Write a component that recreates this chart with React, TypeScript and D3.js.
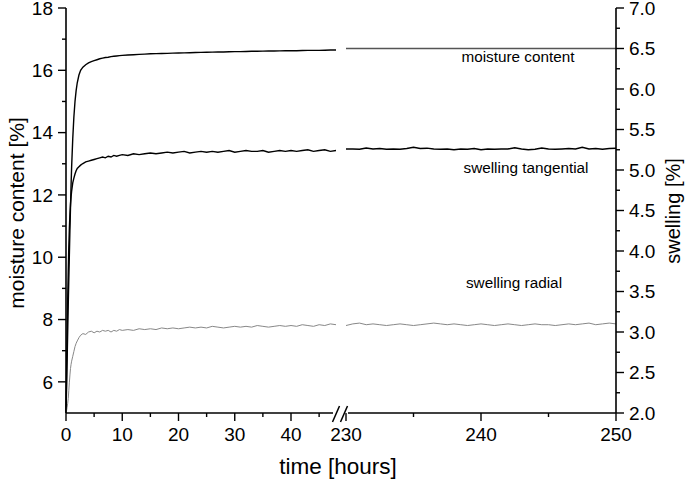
import React from 'react';
import * as d3 from 'd3';

const timeLeft = [0, 0.1, 0.2, 0.3, 0.4, 0.5, 0.6, 0.7, 0.8, 0.9, 1, 1.2, 1.4, 1.6, 1.8, 2, 2.3, 2.6, 3, 3.5, 4, 4.5, 5, 5.5, 6, 6.5, 7, 7.5, 8, 8.5, 9, 9.5, 10,
  11, 12, 13, 14, 15, 16, 17, 18, 19, 20, 21, 22, 23, 24, 25, 26, 27, 28, 29, 30, 31, 32, 33, 34, 35, 36, 37, 38, 39, 40, 41, 42, 43, 44, 45, 46, 47, 48];

const moistureLeft = [5.0, 5.8, 6.7, 7.6, 8.5, 9.3, 10.1, 10.9, 11.6, 12.3, 12.9, 13.8, 14.5, 15.0, 15.35, 15.6, 15.85, 16.0, 16.1, 16.18, 16.24, 16.28, 16.31, 16.34, 16.37, 16.39, 16.41, 16.42, 16.44, 16.45, 16.46, 16.47, 16.48,
  16.49, 16.5, 16.51, 16.52, 16.53, 16.535, 16.54, 16.545, 16.55, 16.555, 16.56, 16.565, 16.57, 16.575, 16.58, 16.585, 16.59, 16.59, 16.595, 16.6, 16.6, 16.605, 16.61, 16.61, 16.615, 16.62, 16.62, 16.625, 16.63, 16.63, 16.63, 16.635, 16.64, 16.64, 16.64, 16.645, 16.65, 16.65];

const tangentialLeft = [2.0, 2.5, 3.0, 3.4, 3.75, 4.05, 4.28, 4.45, 4.58, 4.67, 4.74, 4.84, 4.9, 4.95, 4.99, 5.02, 5.04, 5.06, 5.08, 5.1, 5.11, 5.12, 5.13, 5.14, 5.15, 5.16, 5.15, 5.17, 5.16, 5.18, 5.17, 5.18, 5.19,
  5.18, 5.2, 5.19, 5.2, 5.21, 5.2, 5.21, 5.22, 5.21, 5.22, 5.23, 5.21, 5.22, 5.23, 5.22, 5.23, 5.22, 5.23, 5.24, 5.22, 5.23, 5.24, 5.23, 5.23, 5.24, 5.22, 5.23, 5.24, 5.23, 5.24, 5.23, 5.24, 5.25, 5.23, 5.24, 5.25, 5.23, 5.24];

const radialLeft = [2.0, 2.03, 2.07, 2.12, 2.18, 2.28, 2.38, 2.47, 2.55, 2.6, 2.64, 2.7, 2.76, 2.82, 2.86, 2.89, 2.93, 2.96, 2.98, 2.97, 3.0, 3.01, 2.99, 3.01, 3.0, 3.02, 3.01, 3.02, 3.0, 3.02, 3.01, 3.03, 3.02,
  3.03, 3.02, 3.04, 3.03, 3.04, 3.03, 3.05, 3.04, 3.05, 3.04, 3.05, 3.06, 3.05, 3.06, 3.05, 3.07, 3.06, 3.05, 3.06, 3.07, 3.06, 3.07, 3.06, 3.08, 3.07, 3.06, 3.07, 3.08, 3.07, 3.08, 3.07, 3.09, 3.08, 3.07, 3.09, 3.08, 3.1, 3.09];

const timeRight = [230, 230.5, 231, 231.5, 232, 232.5, 233, 233.5, 234, 234.5, 235, 235.5, 236, 236.5, 237, 237.5, 238, 238.5, 239, 239.5, 240,
  240.5, 241, 241.5, 242, 242.5, 243, 243.5, 244, 244.5, 245, 245.5, 246, 246.5, 247, 247.5, 248, 248.5, 249, 249.5, 250];

const moistureRight = [16.70, 16.70, 16.705, 16.70, 16.70, 16.705, 16.70, 16.70, 16.70, 16.705, 16.70, 16.70, 16.70, 16.705, 16.70, 16.70, 16.70, 16.70, 16.705, 16.70, 16.70,
  16.70, 16.705, 16.70, 16.70, 16.70, 16.705, 16.70, 16.70, 16.70, 16.70, 16.705, 16.70, 16.70, 16.70, 16.705, 16.70, 16.70, 16.70, 16.70, 16.70];

const tangentialRight = [5.26, 5.26, 5.255, 5.27, 5.26, 5.265, 5.255, 5.26, 5.255, 5.265, 5.28, 5.265, 5.27, 5.26, 5.255, 5.26, 5.25, 5.26, 5.255, 5.265, 5.25,
  5.26, 5.255, 5.26, 5.26, 5.275, 5.26, 5.25, 5.255, 5.27, 5.26, 5.255, 5.26, 5.265, 5.26, 5.28, 5.26, 5.265, 5.255, 5.265, 5.27];

const radialRight = [3.08, 3.1, 3.11, 3.09, 3.1, 3.09, 3.08, 3.09, 3.1, 3.09, 3.08, 3.09, 3.1, 3.11, 3.1, 3.09, 3.1, 3.09, 3.08, 3.09, 3.1,
  3.09, 3.08, 3.09, 3.1, 3.09, 3.08, 3.09, 3.1, 3.09, 3.09, 3.08, 3.09, 3.1, 3.09, 3.1, 3.11, 3.09, 3.1, 3.11, 3.1];

const moistureTicks = [6, 8, 10, 12, 14, 16, 18];
const moistureMinor = [7, 9, 11, 13, 15, 17];
const swellingTicks = [2.0, 2.5, 3.0, 3.5, 4.0, 4.5, 5.0, 5.5, 6.0, 6.5, 7.0];
const swellingMinor = [2.25, 2.75, 3.25, 3.75, 4.25, 4.75, 5.25, 5.75, 6.25, 6.75];
const timeTicksLeft = [0, 10, 20, 30, 40];
const timeMinorLeft = [5, 15, 25, 35, 45];
const timeTicksRight = [230, 240, 250];
const timeMinorRight = [235, 245];

const FONT = 'Liberation Sans, Arial, Helvetica, sans-serif';

export default function App() {
  const W = 685, H = 483;
  const xL = d3.scaleLinear().domain([0, 48]).range([66, 336]);
  const xR = d3.scaleLinear().domain([230, 250]).range([346, 616]);
  const yM = d3.scaleLinear().domain([5, 18]).range([413, 8]);
  const yS = d3.scaleLinear().domain([2, 7]).range([413, 8]);
  const x0 = xL(0), x1 = xR(250), yB = yM(5);

  const lineL = (vals: number[], y: d3.ScaleLinear<number, number>) =>
    d3.line<number>().x((_, i) => xL(timeLeft[i])).y((d) => y(d))(vals) || '';
  const lineR = (vals: number[], y: d3.ScaleLinear<number, number>) =>
    d3.line<number>().x((_, i) => xR(timeRight[i])).y((d) => y(d))(vals) || '';

  const axisStroke = '#000';
  const major = 8, minor = 4;
  const brkL = 333, brkR = 348;

  return (
    <svg width={W} height={H} style={{ position: 'absolute', left: 0, top: 0, background: '#fff' }} fontFamily={FONT}>
      <rect x={0} y={0} width={W} height={H} fill="#fff" />
      {/* data lines */}
      <path d={lineL(moistureLeft, yM)} fill="none" stroke="#000" strokeWidth={1.4} />
      <path d={lineL(tangentialLeft, yS)} fill="none" stroke="#000" strokeWidth={1.4} />
      <path d={lineL(radialLeft, yS)} fill="none" stroke="#888" strokeWidth={1} />
      <path d={lineR(moistureRight, yM)} fill="none" stroke="#555" strokeWidth={1.3} />
      <path d={lineR(tangentialRight, yS)} fill="none" stroke="#000" strokeWidth={1.5} />
      <path d={lineR(radialRight, yS)} fill="none" stroke="#888" strokeWidth={1} />

      {/* left axis */}
      <line x1={x0} x2={x0} y1={yM(18)} y2={yB} stroke={axisStroke} strokeWidth={1.6} />
      {moistureTicks.map((t) => (
        <g key={'ml' + t}>
          <line x1={x0 - major} x2={x0} y1={yM(t)} y2={yM(t)} stroke={axisStroke} strokeWidth={1.4} />
          <text x={x0 - 13} y={yM(t)} dy="0.36em" textAnchor="end" fontSize={19}>{t}</text>
        </g>
      ))}
      {moistureMinor.map((t) => (
        <line key={'mm' + t} x1={x0 - minor} x2={x0} y1={yM(t)} y2={yM(t)} stroke={axisStroke} strokeWidth={1.4} />
      ))}

      {/* right axis */}
      <line x1={x1} x2={x1} y1={yS(7)} y2={yB} stroke={axisStroke} strokeWidth={1.6} />
      {swellingTicks.map((t) => (
        <g key={'sl' + t}>
          <line x1={x1} x2={x1 + major} y1={yS(t)} y2={yS(t)} stroke={axisStroke} strokeWidth={1.4} />
          <text x={x1 + 13} y={yS(t)} dy="0.36em" textAnchor="start" fontSize={19}>{t.toFixed(1)}</text>
        </g>
      ))}
      {swellingMinor.map((t) => (
        <line key={'sm' + t} x1={x1} x2={x1 + minor} y1={yS(t)} y2={yS(t)} stroke={axisStroke} strokeWidth={1.4} />
      ))}

      {/* bottom axis with break */}
      <line x1={x0} x2={brkL} y1={yB} y2={yB} stroke={axisStroke} strokeWidth={1.6} />
      <line x1={brkR} x2={x1} y1={yB} y2={yB} stroke={axisStroke} strokeWidth={1.6} />
      <line x1={332.5} y1={422} x2={339.5} y2={406} stroke={axisStroke} strokeWidth={1.5} />
      <line x1={340.5} y1={422} x2={347.5} y2={406} stroke={axisStroke} strokeWidth={1.5} />
      {timeTicksLeft.map((t) => (
        <g key={'tl' + t}>
          <line x1={xL(t)} x2={xL(t)} y1={yB} y2={yB + major} stroke={axisStroke} strokeWidth={1.4} />
          <text x={xL(t)} y={441} textAnchor="middle" fontSize={19}>{t}</text>
        </g>
      ))}
      {timeMinorLeft.map((t) => (
        <line key={'tm' + t} x1={xL(t)} x2={xL(t)} y1={yB} y2={yB + minor} stroke={axisStroke} strokeWidth={1.4} />
      ))}
      {timeTicksRight.map((t) => (
        <g key={'tr' + t}>
          <line x1={xR(t)} x2={xR(t)} y1={yB} y2={yB + major} stroke={axisStroke} strokeWidth={1.4} />
          <text x={xR(t)} y={441} textAnchor="middle" fontSize={19}>{t}</text>
        </g>
      ))}
      {timeMinorRight.map((t) => (
        <line key={'trm' + t} x1={xR(t)} x2={xR(t)} y1={yB} y2={yB + minor} stroke={axisStroke} strokeWidth={1.4} />
      ))}

      {/* axis titles */}
      <text x={338} y={474} textAnchor="middle" fontSize={22.5}>time [hours]</text>
      <text transform={`translate(24,${213}) rotate(-90)`} textAnchor="middle" fontSize={21}>moisture content [%]</text>
      <text transform={`translate(680,${211}) rotate(-90)`} textAnchor="middle" fontSize={20}>swelling [%]</text>

      {/* series labels */}
      <text x={518} y={62} textAnchor="middle" fontSize={15.3}>moisture content</text>
      <text x={526} y={173} textAnchor="middle" fontSize={15.3}>swelling tangential</text>
      <text x={514} y={288} textAnchor="middle" fontSize={15.3}>swelling radial</text>
    </svg>
  );
}
